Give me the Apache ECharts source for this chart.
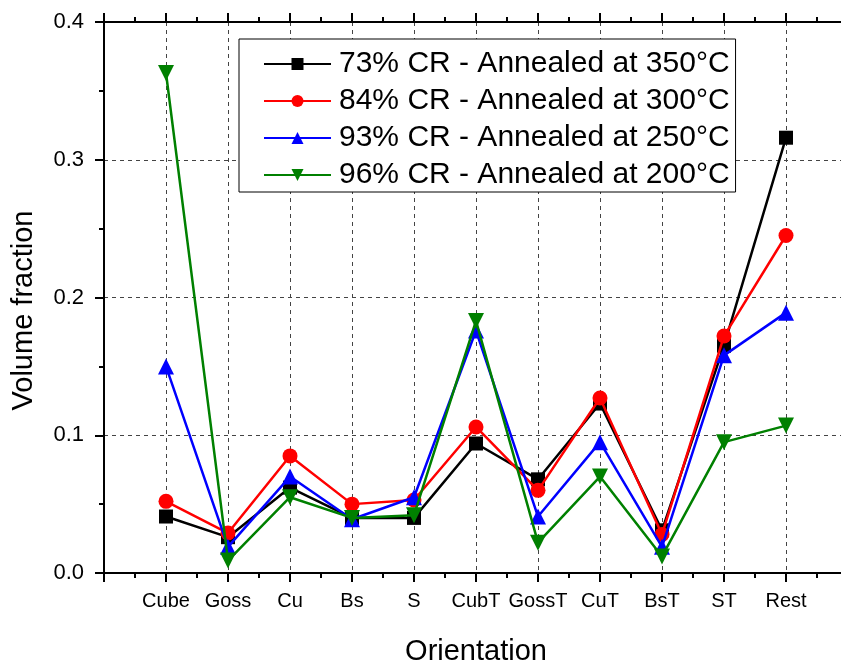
<!DOCTYPE html>
<html>
<head>
<meta charset="utf-8">
<script src="https://cdn.jsdelivr.net/npm/echarts@6/dist/echarts.min.js"></script>
<style>
  html, body { margin: 0; padding: 0; background: #fff; }
  #chart { width: 841px; height: 664px; }
</style>
</head>
<body>
<div id="chart"></div>
<script>
// Texture components along the x axis
const categories = ['Cube', 'Goss', 'Cu', 'Bs', 'S', 'CubT', 'GossT', 'CuT', 'BsT', 'ST', 'Rest'];

// Volume fraction of each component per processing route
const cr73_350 = [0.041, 0.026, 0.062, 0.040, 0.040, 0.094, 0.068, 0.123, 0.031, 0.165, 0.316];
const cr84_300 = [0.052, 0.029, 0.085, 0.050, 0.053, 0.106, 0.060, 0.127, 0.028, 0.172, 0.245];
const cr93_250 = [0.150, 0.019, 0.070, 0.039, 0.055, 0.176, 0.041, 0.095, 0.019, 0.158, 0.189];
const cr96_200 = [0.363, 0.009, 0.055, 0.040, 0.042, 0.183, 0.022, 0.070, 0.012, 0.095, 0.107];

const seriesNames = [
  '73% CR - Annealed at 350°C',
  '84% CR - Annealed at 300°C',
  '93% CR - Annealed at 250°C',
  '96% CR - Annealed at 200°C'
];
const seriesColors = ['#000000', '#ff0000', '#0000ff', '#008000'];
const seriesSymbols = ['rect', 'circle', 'triangle', 'path://M0,0 L10,0 L5,9 Z'];
const seriesSizes = [14, 15, 16, 16];
const seriesValues = [cr73_350, cr84_300, cr93_250, cr96_200];

const yTicks = [0.0, 0.1, 0.2, 0.3, 0.4];

const FONT = 'Liberation Sans, Arial, sans-serif';

const chart = echarts.init(document.getElementById('chart'), null, { renderer: 'canvas' });

const axisLineStyle = { show: true, onZero: false, lineStyle: { color: '#000', width: 2 } };
const majorTicks = { show: true, inside: false, length: 9, lineStyle: { color: '#000', width: 2 } };
const minorTicks = { show: true, splitNumber: 2, length: 5, lineStyle: { color: '#000', width: 2 } };
const dashedGrid = { show: true, lineStyle: { color: '#444', type: [4, 4], width: 1 } };

const option = {
  backgroundColor: '#ffffff',
  animation: false,
  textStyle: { fontFamily: FONT },
  // the plot frame runs a little past the right edge of the canvas
  grid: {
    left: 104, top: 22, width: 744, bottom: 91,
    containLabel: false,
    outerBoundsMode: 'none'
  },
  legend: {
    orient: 'vertical',
    left: 239,
    top: 39,
    padding: [10, 6, 2, 24],
    itemGap: 7,
    itemWidth: 67,
    itemHeight: 15,
    borderColor: '#000',
    borderWidth: 1,
    backgroundColor: '#fff',
    textStyle: { fontFamily: FONT, fontSize: 30, lineHeight: 30, color: '#000', padding: [0, 0, 0, 3] },
    data: seriesNames
  },
  xAxis: [
    {
      type: 'value',
      position: 'bottom',
      min: 0,
      max: 12,
      interval: 1,
      name: 'Orientation',
      nameLocation: 'middle',
      nameGap: 64,
      nameTextStyle: { fontFamily: FONT, fontSize: 29, color: '#000' },
      axisLine: axisLineStyle,
      axisTick: majorTicks,
      minorTick: minorTicks,
      axisLabel: {
        show: true,
        margin: 18,
        fontFamily: FONT,
        fontSize: 20,
        color: '#000',
        formatter: function (v) {
          const i = Math.round(v) - 1;
          return (i >= 0 && i < categories.length) ? categories[i] : '';
        }
      },
      splitLine: dashedGrid
    },
    {
      type: 'value',
      position: 'top',
      min: 0,
      max: 12,
      interval: 1,
      axisLine: axisLineStyle,
      axisTick: majorTicks,
      minorTick: minorTicks,
      axisLabel: { show: false },
      splitLine: { show: false }
    }
  ],
  yAxis: {
    type: 'value',
    min: yTicks[0],
    max: yTicks[yTicks.length - 1],
    interval: 0.1,
    name: 'Volume fraction',
    nameLocation: 'middle',
    nameGap: 66,
    nameTextStyle: { fontFamily: FONT, fontSize: 29, color: '#000', padding: [0, 26, 0, 0] },
    axisLine: axisLineStyle,
    axisTick: majorTicks,
    minorTick: minorTicks,
    axisLabel: {
      margin: 20,
      fontFamily: FONT,
      fontSize: 22,
      color: '#000',
      formatter: function (v) { return v.toFixed(1); }
    },
    splitLine: dashedGrid
  },
  series: seriesValues.map(function (vals, k) {
    return {
      name: seriesNames[k],
      type: 'line',
      xAxisIndex: 0,
      data: vals.map(function (v, i) { return [i + 1, v]; }),
      symbol: seriesSymbols[k],
      symbolSize: seriesSizes[k],
      showAllSymbol: true,
      lineStyle: { color: seriesColors[k], width: 2.5 },
      itemStyle: { color: seriesColors[k], borderWidth: 0 },
      z: 2 + k
    };
  })
};

chart.setOption(option);
</script>
</body>
</html>
